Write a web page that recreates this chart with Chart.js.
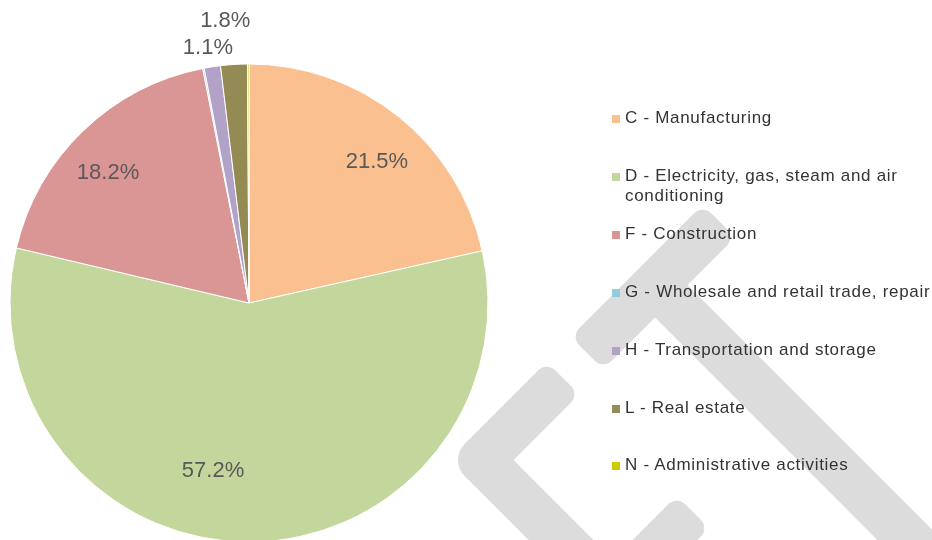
<!DOCTYPE html>
<html>
<head>
<meta charset="utf-8">
<script src="https://cdn.jsdelivr.net/npm/chart.js@4.4.1/dist/chart.umd.min.js"></script>
<style>
html, body { margin:0; padding:0; background:#fff; overflow:hidden; }
.chart-container { position:absolute; left:0; top:0; width:932px; height:545px; }
#legend { position:absolute; left:612px; top:108px; font-family:"Liberation Sans", Arial, sans-serif; font-size:17px; letter-spacing:0.7px; color:#333; }
.item { position:absolute; left:0; width:330px; }
.box { position:absolute; left:0; top:7px; width:8px; height:8px; }
.txt { position:absolute; left:13px; width:310px; line-height:20px; }
</style>
</head>
<body>
<div class="chart-container"><canvas id="shareChart"></canvas></div>
<div id="legend"></div>
<script>

// DATA

const categories = [
"C - Manufacturing",
"D - Electricity, gas, steam and air conditioning",
"F - Construction",
"G - Wholesale and retail trade, repair",
"H - Transportation and storage",
"L - Real estate",
"N - Administrative activities"
];

const shares = [21.5, 57.2, 18.2, 0.1, 1.1, 1.8, 0.1];

const sliceColors = ["#FAC090", "#C3D69B", "#D99694", "#93CDDD", "#B3A2C7", "#948A54", "#CCCC00"];


// WHERE EACH PERCENT LABEL SITS (angle shift in degrees, radius as part of pie radius)

const labelPlace = [
{shift:3.3, r:0.80},
{shift:11.8, r:0.715},
{shift:-3.2, r:0.805},
null,
{shift:-0.3, r:1.084},
{shift:-1.2, r:1.19},
null
];


// GREY LOGO IN THE BACKGROUND

function band(ctx, x1, y1, x2, y2, w, radii){
let a = Math.atan2(y2 - y1, x2 - x1);
let len = Math.hypot(x2 - x1, y2 - y1);
ctx.save();
ctx.translate(x1, y1);
ctx.rotate(a);
ctx.beginPath();
ctx.roundRect(0, -w / 2, len, w, radii);
ctx.fill();
ctx.restore();
}

const logoPlugin = {
id:"logo",
beforeDraw(chart){
const ctx = chart.ctx;
ctx.save();
ctx.fillStyle = "#dcdcdc";
// upper chevron
band(ctx, 587, 353, 719, 221, 46, 12);
band(ctx, 655, 285, 1000, 630, 46, [0, 0, 0, 0]);
// lower chevron
band(ctx, 481, 460, 563, 378, 46, [0, 12, 12, 0]);
band(ctx, 481, 460, 640, 619, 46, [0, 0, 0, 0]);
ctx.beginPath();
ctx.arc(481, 460, 23, 0, Math.PI * 2);
ctx.fill();
// small stroke at the bottom
band(ctx, 693, 512, 600, 605, 46, [12, 0, 0, 12]);
ctx.restore();
}
};


// PERCENT LABELS

const labelPlugin = {
id:"pctLabels",
afterDatasetsDraw(chart){
const ctx = chart.ctx;
const meta = chart.getDatasetMeta(0);
ctx.save();
ctx.font = "22px 'Liberation Sans', Arial, sans-serif";
ctx.fillStyle = "#595959";
ctx.textAlign = "center";
ctx.textBaseline = "middle";
meta.data.forEach((arc, i)=>{
let place = labelPlace[i];
if(!place) return;
let p = arc.getProps(["x", "y", "startAngle", "endAngle", "outerRadius"], true);
let mid = (p.startAngle + p.endAngle) / 2 + place.shift * Math.PI / 180;
let r = p.outerRadius * place.r;
ctx.fillText(shares[i].toFixed(1) + "%", p.x + r * Math.cos(mid), p.y + r * Math.sin(mid) + 1);
});
ctx.restore();
}
};


const ctx = document.getElementById("shareChart").getContext("2d");

const chart = new Chart(ctx,{

type:"pie",

data:{
labels:categories,
datasets:[{
data:shares,
backgroundColor:sliceColors,
borderColor:"#ffffff",
borderWidth:1,
hoverOffset:0
}]
},

options:{
responsive:true,
maintainAspectRatio:false,
animation:false,
radius:239,
layout:{
padding:{ top:64, bottom:3, left:0, right:434 }
},
plugins:{
legend:{ display:false },
tooltip:{ enabled:false }
}
},

plugins:[logoPlugin, labelPlugin]

});


// LEGEND ON THE RIGHT

const legend = document.getElementById("legend");

chart.data.labels.forEach((name, i)=>{
let item = document.createElement("div");
item.className = "item";
item.style.top = (i * 57.9) + "px";
let box = document.createElement("span");
box.className = "box";
box.style.background = chart.data.datasets[0].backgroundColor[i];
let txt = document.createElement("span");
txt.className = "txt";
txt.textContent = name;
item.appendChild(box);
item.appendChild(txt);
legend.appendChild(item);
});

</script>
</body>
</html>
